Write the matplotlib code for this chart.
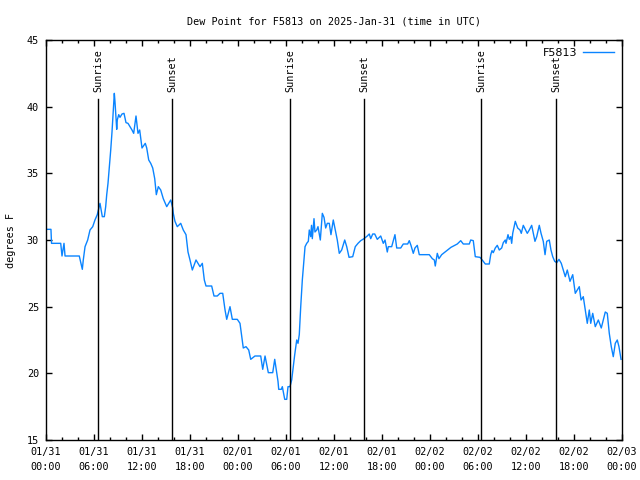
import numpy as np
import pandas as pd
import matplotlib
matplotlib.use('Agg')
import matplotlib.pyplot as plt
import matplotlib.dates as mdates
import matplotlib.transforms as mtransforms

# hours since 2025-01-31 00:00 UTC and dew point in degrees F
hours = [0.0, 0.62, 0.69, 1.84, 2.0, 2.25, 2.38, 2.5, 4.16, 4.54, 4.66, 4.88, 5.21, 5.5,
         5.84, 6.12, 6.41, 6.75, 7.04, 7.29, 7.46, 7.59, 7.75, 7.91, 8.09, 8.25, 8.38,
         8.54, 8.62, 8.84, 8.91, 9.09, 9.25, 9.5, 9.75, 10.0, 10.25, 10.5, 10.75, 10.96,
         11.25, 11.5, 11.71, 12.0, 12.41, 12.59, 12.84, 13.09, 13.34, 13.59, 13.79, 14.04,
         14.34, 14.66, 15.09, 15.59, 15.84, 15.91, 16.12, 16.41, 16.84, 17.16, 17.5, 17.75,
         18.0, 18.29, 18.75, 19.25, 19.54, 19.79, 20.0, 20.71, 21.0, 21.41, 21.75, 22.09,
         22.38, 22.59, 23.0, 23.29, 23.91, 24.25, 24.66, 25.0, 25.34, 25.59, 26.12, 26.84,
         27.09, 27.38, 27.79, 28.34, 28.59, 29.0, 29.09, 29.41, 29.54, 29.84, 30.09, 30.25,
         30.5, 30.71, 30.91, 31.09, 31.34, 31.5, 31.66, 31.84, 32.04, 32.38, 32.59, 32.79,
         32.91, 33.09, 33.19, 33.29, 33.5, 33.62, 33.84, 34.0, 34.29, 34.54, 34.75, 34.96,
         35.16, 35.41, 35.62, 35.91, 36.21, 36.41, 36.66, 36.96, 37.34, 37.59, 37.88, 38.34,
         38.66, 39.0, 39.34, 39.75, 40.16, 40.41, 40.59, 40.84, 41.09, 41.41, 41.84, 42.16,
         42.38, 42.66, 42.79, 43.21, 43.62, 43.84, 44.34, 44.66, 45.21, 45.41, 45.62, 45.91,
         46.12, 46.41, 46.66, 47.91, 48.29, 48.54, 48.66, 48.91, 49.12, 49.46, 49.88, 50.62,
         51.41, 51.84, 52.16, 52.91, 53.09, 53.41, 53.66, 54.25, 54.66, 54.91, 55.41, 55.59,
         55.75, 55.91, 56.16, 56.41, 56.66, 56.96, 57.16, 57.41, 57.5, 57.75, 57.91, 58.09,
         58.21, 58.34, 58.66, 58.96, 59.25, 59.41, 59.66, 59.96, 60.16, 60.41, 60.71, 60.91,
         61.12, 61.34, 61.66, 61.88, 62.16, 62.38, 62.59, 62.91, 63.12, 63.34, 63.59, 63.84,
         64.12, 64.41, 64.66, 64.91, 65.16, 65.5, 65.84, 66.16, 66.66, 66.88, 67.16, 67.41,
         67.66, 67.91, 68.09, 68.34, 68.66, 69.04, 69.41, 69.91, 70.16, 70.41, 70.66, 70.91,
         71.16, 71.41, 71.62, 71.88]
dewpoint = [30.8, 30.8, 29.75, 29.75, 28.8, 29.75, 28.8, 28.8, 28.8, 27.8, 28.5, 29.5, 30.0, 30.75,
            31.0, 31.5, 31.9, 32.75, 31.75, 31.75, 32.5, 33.4, 34.25, 35.4, 36.75, 38.1, 39.4,
            41.0, 40.4, 38.3, 39.0, 39.4, 39.2, 39.45, 39.5, 38.8, 38.75, 38.5, 38.25, 38.0,
            39.3, 38.0, 38.25, 36.9, 37.25, 36.9, 36.0, 35.75, 35.4, 34.6, 33.4, 34.0,
            33.75, 33.1, 32.5, 33.0, 32.4, 32.0, 31.4, 31.0, 31.25, 30.75, 30.4, 29.1,
            28.5, 27.75, 28.5, 28.0, 28.25, 27.0, 26.55, 26.55, 25.8, 25.8, 26.0, 26.0,
            24.75, 24.05, 25.0, 24.05, 24.05, 23.75, 21.9, 22.0, 21.75, 21.05, 21.3, 21.3,
            20.3, 21.3, 20.05, 20.05, 21.05, 19.4, 18.8, 18.8, 19.0, 18.05, 18.05, 19.0,
            19.0, 19.5, 20.5, 21.4, 22.5, 22.25, 22.9, 25.0, 27.0, 29.5, 29.75, 29.9,
            30.75, 30.25, 31.1, 30.1, 31.6, 30.6, 30.75, 31.0, 30.0, 32.0, 31.7, 30.9,
            31.25, 31.25, 30.4, 31.5, 30.6, 30.0, 29.0, 29.25, 30.0, 29.5, 28.7, 28.75,
            29.5, 29.75, 29.95, 30.1, 30.3, 30.45, 30.1, 30.45, 30.45, 30.05, 30.3, 29.75,
            30.0, 29.1, 29.5, 29.5, 30.4, 29.4, 29.4, 29.7, 29.7, 29.95, 29.6, 29.0,
            29.4, 29.6, 28.9, 28.9, 28.6, 28.5, 28.05, 29.0, 28.6, 28.9, 29.1, 29.45,
            29.7, 29.95, 29.7, 29.7, 30.0, 29.95, 28.75, 28.7, 28.4, 28.2, 28.2, 28.9,
            29.2, 29.05, 29.4, 29.6, 29.25, 29.4, 29.8, 30.0, 29.75, 30.4, 30.05, 30.25,
            29.75, 30.5, 31.4, 30.9, 30.75, 30.5, 31.1, 30.75, 30.5, 30.75, 31.1, 30.5,
            29.9, 30.25, 31.1, 30.5, 29.9, 28.9, 29.9, 30.0, 29.25, 28.75, 28.4, 28.3,
            28.55, 28.25, 27.75, 27.25, 27.75, 26.9, 27.4, 26.0, 26.5, 25.5, 25.75, 24.75,
            23.75, 24.75, 23.75, 24.5, 23.5, 24.0, 23.4, 24.6, 24.5, 23.0, 22.0, 21.25,
            22.25, 22.5, 22.0, 21.05]

sunrise = ['2025-01-31 06:30', '2025-02-01 06:30', '2025-02-02 06:25']
sunset = ['2025-01-31 15:45', '2025-02-01 15:45', '2025-02-02 15:45']

start = pd.Timestamp('2025-01-31 00:00')
end = pd.Timestamp('2025-02-03 00:00')
times = start + pd.to_timedelta(hours, unit='h')

font = 'DejaVu Sans Mono'
fs = 7.3
plt.rcParams['font.family'] = font
plt.rcParams['font.size'] = fs

fig = plt.figure(figsize=(6.4, 4.8), dpi=100)
ax = fig.add_axes([46/640, 40/480, 576/640, 400/480])

ax.plot(times, dewpoint, color='#0a84ff', lw=1.0, label='F5813')

trans = mtransforms.blended_transform_factory(ax.transData, ax.transAxes)
for lab, evts in (('Sunrise', sunrise), ('Sunset', sunset)):
    for t in evts:
        t = pd.Timestamp(t)
        ax.plot([t, t], [0, 0.8525], color='black', lw=1.0, transform=trans)
        ax.text(t, 0.87, lab, rotation=90, ha='center', va='bottom',
                transform=trans, fontsize=fs)

ax.set_xlim(start, end)
ax.set_ylim(15, 45)
ax.set_yticks([15, 20, 25, 30, 35, 40, 45])
ax.xaxis.set_major_locator(mdates.HourLocator(byhour=[0, 6, 12, 18]))
ax.xaxis.set_minor_locator(mdates.HourLocator(byhour=range(0, 24, 2)))
ax.xaxis.set_major_formatter(mdates.DateFormatter('%m/%d\n%H:%M'))
ax.tick_params(which='major', direction='in', length=4.5, width=1, top=True, right=True,
               labelsize=fs, pad=5)
ax.tick_params(which='minor', direction='in', length=2.5, width=1, top=True, right=True)
for lbl in ax.get_xticklabels():
    lbl.set_linespacing(1.6)
for s in ax.spines.values():
    s.set_linewidth(1)

ax.set_ylabel('degrees F', fontsize=fs, labelpad=8)
ax.set_title('Dew Point for F5813 on 2025-Jan-31 (time in UTC)', fontsize=fs, pad=11)
ax.legend(loc='upper right', frameon=False, markerfirst=False, handlelength=2.8,
          prop={'family': 'DejaVu Sans', 'size': 8}, borderaxespad=0.3, handletextpad=0.5)

fig.savefig('out.png', dpi=100)
